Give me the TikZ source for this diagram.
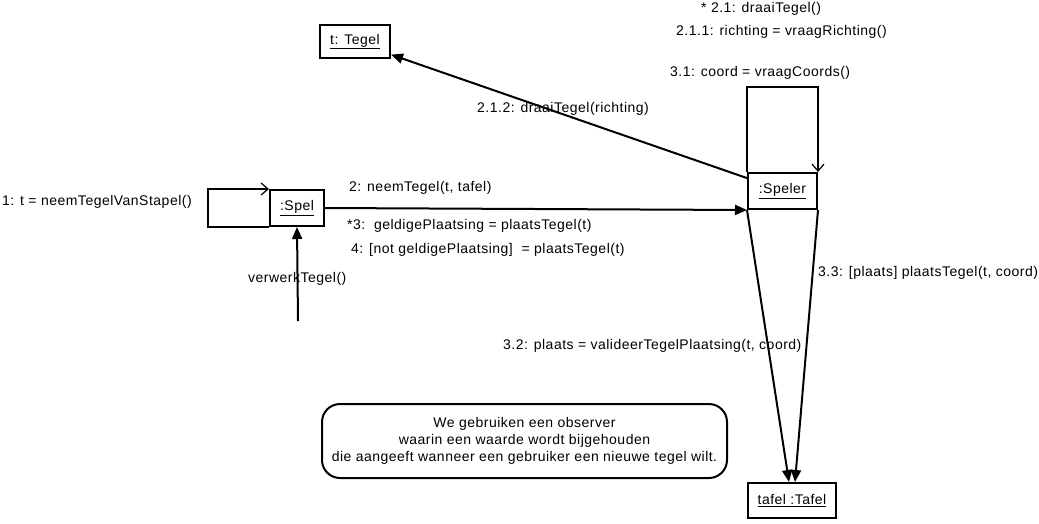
\documentclass[tikz,border=0pt]{standalone}
\usepackage{fontspec}
\setmainfont{Liberation Sans}[LetterSpace=3.5]
\usepackage{tikz}
\usetikzlibrary{arrows.meta,positioning}

\tikzset{
  obj/.style={draw,line width=2pt,inner sep=0pt,font=\fontsize{14}{16}\selectfont},
  msg/.style={anchor=west,inner sep=0pt,font=\fontsize{14}{16}\selectfont},
  call/.style={line width=2pt,-{Triangle[length=12pt,width=10pt]}},
  self/.style={line width=2pt,-{Straight Barb[length=7pt,width=12pt,line width=1.2pt]}}
}

\begin{document}
\begin{tikzpicture}[x=1pt,y=-1pt]
  \useasboundingbox (0,0) rectangle (1039,523);

  % objects
  \node[obj,minimum width=70pt,minimum height=33pt] (tegel) at (355,41.5) {\underline{t: Tegel}};
  \node[obj,minimum width=54pt,minimum height=36pt] (spel) at (297,208) {\underline{:Spel}};
  \node[obj,minimum width=69pt,minimum height=36pt] (speler) at (782.5,191) {\underline{:Speler}};
  \node[obj,minimum width=88pt,minimum height=35pt] (tafel) at (792,500.5) {\underline{tafel :Tafel}};
  \coordinate (bron) at (298,321);

  % self calls
  \draw[self] (spel.south west) -- ++(-61,0) |- (spel.north west);
  \draw[self] (speler.north west) -- ++(0,-85) -| (speler.north east);

  % messages
  \draw[call] (bron) -- (spel.south);
  \draw[call] (spel.east) -- (speler.south west);
  \draw[call] (speler.160) -- (tegel.-20);
  \draw[call] (speler.south west) -- ([xshift=-3pt]tafel.north);
  \draw[call] (speler.south east) -- ([xshift=3pt]tafel.north);

  % labels
  \node[msg] (m1) at (2,202) {1: t = neemTegelVanStapel()};
  \node[msg] (m0) at (248,279) {verwerkTegel()};
  \node[msg] (m2) at (349,188) {2: neemTegel(t, tafel)};
  \node[msg] (m3) at (347,226) {*3:\ \ geldigePlaatsing = plaatsTegel(t)};
  \node[msg] (m4) at (351,250) {4: [not geldigePlaatsing]\ \ = plaatsTegel(t)};
  \node[msg] (m212) at (477,109) {2.1.2: draaiTegel(richting)};
  \node[msg] (m21) at (701,9) {* 2.1: draaiTegel()};
  \node[msg] (m211) at (676,32) {2.1.1: richting = vraagRichting()};
  \node[msg] (m31) at (670,73) {3.1: coord = vraagCoords()};
  \node[msg] (m33) at (818,273) {3.3: [plaats] plaatsTegel(t, coord)};
  \node[msg] (m32) at (503,346) {3.2: plaats = valideerTegelPlaatsing(t, coord)};

  % note
  \node[draw,line width=2pt,rounded corners=18pt,minimum width=405pt,minimum height=74pt,
        align=center,font=\fontsize{14}{17}\selectfont] (noot) at (524.5,441)
    {We gebruiken een observer\\waarin een waarde wordt bijgehouden\\die aangeeft wanneer een gebruiker een nieuwe tegel wilt.};
\end{tikzpicture}
\end{document}
